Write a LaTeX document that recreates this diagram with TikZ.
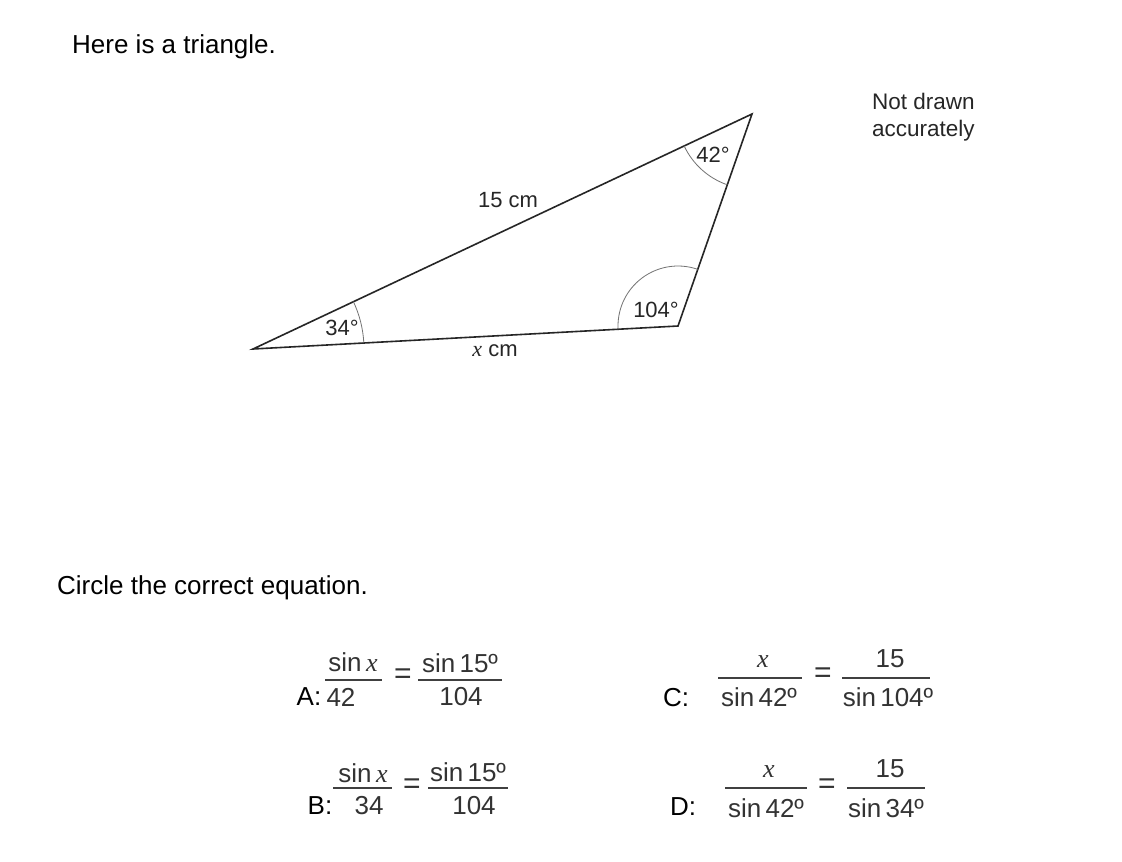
\documentclass[tikz,border=0pt]{standalone}
\usepackage{fontspec}
\setmainfont{Liberation Sans}
\newfontfamily\tnr{Liberation Serif}
\usetikzlibrary{angles}
\tikzset{
  lbl/.style={inner sep=0pt, font=\fontsize{26}{30}\selectfont, text=black},
  tri/.style={inner sep=0pt, font=\fontsize{22}{26}\selectfont, text=black!85},
  eq/.style={inner sep=0pt, font=\fontsize{26}{30}\selectfont, text=black!80},
  eqs/.style={inner sep=0pt, font=\fontsize{30}{34}\selectfont, text=black!80},
  bar/.style={line width=1.5pt, draw=black!75},
  side/.style={line width=1.6pt, draw=black!85, line join=miter},
  arcmark/.style={draw=black!55, line width=0.8pt}
}
\newcommand{\vx}{{\tnr\itshape x}}
\begin{document}
\begin{tikzpicture}[x=1pt,y=-1pt]
\useasboundingbox (0,0) rectangle (1122,862);
\fill[white] (0,0) rectangle (1122,862);
% headings
\node[lbl, anchor=west] (h1) at (72,47) {Here is a triangle.};
\node[lbl, anchor=west] (h2) at (57,588) {Circle the correct equation.};
\node[inner sep=0pt, font=\fontsize{22.5}{27}\selectfont, anchor=west, align=left, text=black!85] (nd) at (872,117) {Not drawn\\accurately};
% triangle
\coordinate (A) at (253,349);
\coordinate (B) at (752,114);
\coordinate (C) at (678,326);
\draw[side] (A) -- (B) -- (C) -- cycle;
\pic[arcmark, angle radius=111pt] {angle=C--A--B};
\pic[arcmark, angle radius=60pt] {angle=B--C--A};
\pic[arcmark, angle radius=75pt] {angle=A--B--C};
\node[tri] (a34) at (342,328) {34°};
\node[tri] (a104) at (656,310) {104°};
\node[tri] (a42) at (713,155) {42°};
\node[tri] (s15) at (508,200) {15 cm};
\node[tri] (sx) at (495,351) {\vx\ cm};
% A
\node[lbl] (la) at (309,697) {A:};
\node[eq] (an) at (353,662) {sin\,\vx};
\draw[bar] (325,680) coordinate (ab1) -- (382,680) coordinate (ab2);
\node[eq] (ad) at (341,697) {42};
\node[eqs] (ae) at (403,676) {=};
\node[eq] (an2) at (460,663) {sin\,15º};
\draw[bar] (418,680) coordinate (ab3) -- (502,680) coordinate (ab4);
\node[eq] (ad2) at (461,697) {104};
% B
\node[lbl] (lb) at (320,806) {B:};
\node[eq] (bn) at (363,773) {sin\,\vx};
\draw[bar] (333,788) coordinate (bb1) -- (392,788) coordinate (bb2);
\node[eq] (bd) at (369,806) {34};
\node[eqs] (be) at (412,786) {=};
\node[eq] (bn2) at (468,772) {sin\,15º};
\draw[bar] (428,788) coordinate (bb3) -- (508,788) coordinate (bb4);
\node[eq] (bd2) at (474,806) {104};
% C
\node[lbl] (lc) at (676,698) {C:};
\node[eq] (cn) at (763,662) {\vx};
\draw[bar] (718,678) coordinate (cb1) -- (802,678) coordinate (cb2);
\node[eq] (cd) at (759,697) {sin\,42º};
\node[eqs] (ce) at (823,675) {=};
\node[eq] (cn2) at (890,659) {15};
\draw[bar] (842,678) coordinate (cb3) -- (930,678) coordinate (cb4);
\node[eq] (cd2) at (888,697) {sin\,104º};
% D
\node[lbl] (ld) at (683,807) {D:};
\node[eq] (dn) at (769,772) {\vx};
\draw[bar] (725,788) coordinate (db1) -- (807,788) coordinate (db2);
\node[eq] (dd) at (766,808) {sin\,42º};
\node[eqs] (de) at (827,786) {=};
\node[eq] (dn2) at (890,769) {15};
\draw[bar] (847,788) coordinate (db3) -- (925,788) coordinate (db4);
\node[eq] (dd2) at (886,808) {sin\,34º};
\end{tikzpicture}
\end{document}
